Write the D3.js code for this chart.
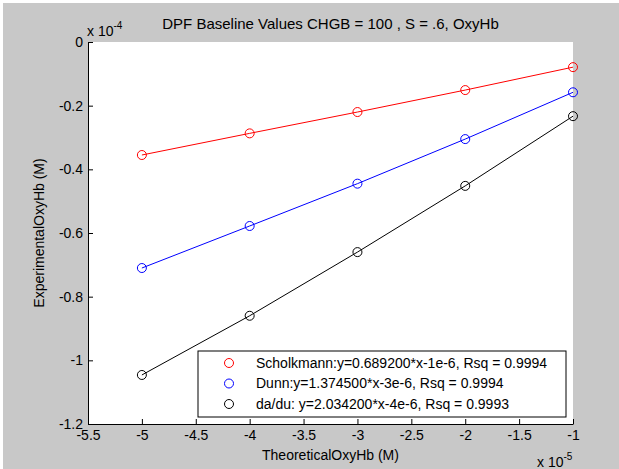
<!DOCTYPE html>
<html><head><meta charset="utf-8">
<script src="https://cdn.jsdelivr.net/npm/d3@7"></script>
<style>body{margin:0;background:#fff;} svg{display:block;} text{font-family:"Liberation Sans",Arial,sans-serif;}</style>
</head><body>
<script>
const xVals = [-5, -4, -3, -2, -1]; // x 10^-5
const scholkmann = [-0.355, -0.287, -0.220, -0.151, -0.079]; // x 10^-4
const dunn = [-0.710, -0.578, -0.445, -0.305, -0.158];
const dadu = [-1.046, -0.860, -0.660, -0.452, -0.233];
const seriesNames = ["Scholkmann:y=0.689200*x-1e-6, Rsq = 0.9994", "Dunn:y=1.374500*x-3e-6, Rsq = 0.9994", "da/du: y=2.034200*x-4e-6, Rsq = 0.9993"];
const seriesColors = ["#ff0000", "#0000ff", "#000000"];
const xTicks = [-5.5, -5, -4.5, -4, -3.5, -3, -2.5, -2, -1.5, -1];
const yTicks = [0, -0.2, -0.4, -0.6, -0.8, -1, -1.2];
const title = "DPF Baseline Values CHGB = 100 , S = .6, OxyHb";

const W = 619, H = 469;
const FS = "14px";
const svg = d3.select("body").append("svg").attr("width", W).attr("height", H);
svg.append("rect").attr("x", 3).attr("y", 3).attr("width", W - 3).attr("height", H - 3).attr("fill", "#c8c8c8");

const L = 88, R = 573, T = 42, B = 424;
const x = d3.scaleLinear().domain([-5.5, -1]).range([L, R]);
const y = d3.scaleLinear().domain([-1.2, 0]).range([B, T]);

svg.append("rect").attr("x", L).attr("y", T).attr("width", R - L).attr("height", B - T).attr("fill", "#fff");

const tickFmt = d => String(d);

const xAxis = svg.append("g").attr("transform", `translate(0,${B})`)
  .call(d3.axisBottom(x).tickValues(xTicks).tickSize(-5).tickSizeOuter(0).tickPadding(5).tickFormat(tickFmt));
const yAxis = svg.append("g").attr("transform", `translate(${L},0)`)
  .call(d3.axisLeft(y).tickValues(yTicks).tickSize(-5).tickSizeOuter(0).tickPadding(5).tickFormat(tickFmt));
[xAxis, yAxis].forEach(g => {
  g.select(".domain").attr("stroke", "#000").attr("stroke-width", 1);
  g.selectAll(".tick line").attr("stroke", "#000");
  g.selectAll("text").attr("fill", "#000").style("font-size", FS).style("font-family", '"Liberation Sans",Arial,sans-serif');
});
xAxis.selectAll("text").attr("dy", "0.8em");

const allSeries = [scholkmann, dunn, dadu];
const line = d3.line().x((d, i) => x(xVals[i])).y(d => y(d));
allSeries.forEach((s, k) => {
  svg.append("path").datum(s).attr("d", line).attr("fill", "none").attr("stroke", seriesColors[k]).attr("stroke-width", 1);
  svg.selectAll(null).data(s).enter().append("circle")
    .attr("cx", (d, i) => x(xVals[i])).attr("cy", d => y(d)).attr("r", 4.5)
    .attr("fill", "none").attr("stroke", seriesColors[k]).attr("stroke-width", 1);
});

// legend
const lg = svg.append("g");
lg.append("rect").attr("x", 198).attr("y", 351).attr("width", 368).attr("height", 66)
  .attr("fill", "#fff").attr("stroke", "#000").attr("stroke-width", 1);
seriesNames.forEach((n, k) => {
  const yy = 363 + k * 20.5;
  lg.append("circle").attr("cx", 229).attr("cy", yy).attr("r", 4.5).attr("fill", "none").attr("stroke", seriesColors[k]);
  lg.append("text").attr("x", 256).attr("y", yy).attr("dy", "0.35em").style("font-size", FS).text(n);
});

// title & labels
svg.append("text").attr("x", (L + R) / 2).attr("y", 29).attr("text-anchor", "middle").style("font-size", "15px").text(title);
const e4 = svg.append("text").attr("x", 87).attr("y", 36).style("font-size", FS);
e4.append("tspan").text("x 10");
e4.append("tspan").attr("dy", -7).style("font-size", "10px").text("-4");
const e5 = svg.append("text").attr("x", 537).attr("y", 467).style("font-size", FS);
e5.append("tspan").text("x 10");
e5.append("tspan").attr("dy", -7).style("font-size", "10px").text("-5");
svg.append("text").attr("x", (L + R) / 2).attr("y", 460).attr("text-anchor", "middle").style("font-size", FS).text("TheoreticalOxyHb (M)");
svg.append("text").attr("transform", `translate(44,${(T + B) / 2}) rotate(-90)`).attr("text-anchor", "middle").style("font-size", FS).text("ExperimentalOxyHb (M)");
</script>
</body></html>
